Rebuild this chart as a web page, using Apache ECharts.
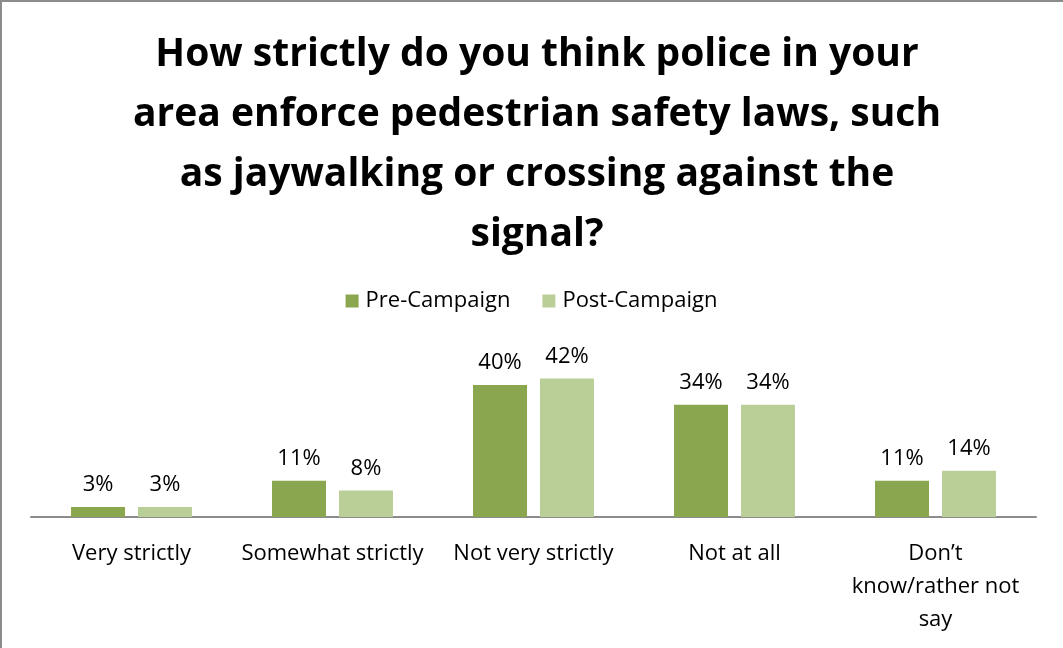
<!DOCTYPE html>
<html>
<head>
<meta charset="utf-8">
<script src="https://cdn.jsdelivr.net/npm/echarts@6/dist/echarts.min.js"></script>
<style>
  html, body { margin: 0; padding: 0; background: #fff; }
  #chart { width: 1063px; height: 648px; }
</style>
</head>
<body>
<div id="chart"></div>
<script>
// Survey responses, percent of respondents
const categories = ['Very strictly', 'Somewhat strictly', 'Not very strictly', 'Not at all', 'Don\u2019t\nknow/rather not\nsay'];
const preCampaign = [3, 11, 40, 34, 11];
const postCampaign = [3, 8, 42, 34, 14];
const seriesNames = ['Pre-Campaign', 'Post-Campaign'];
const titleText = 'How strictly do you think police in your\narea enforce pedestrian safety laws, such\nas jaywalking or crossing against the\nsignal?';

const bodyFont = 'Open Sans';
const chart = echarts.init(document.getElementById('chart'), null, { renderer: 'canvas' });

const labelStyle = {
  show: true,
  position: 'top',
  distance: 11,
  formatter: '{c}%',
  fontFamily: bodyFont,
  fontSize: 22,
  color: '#000'
};

chart.setOption({
  backgroundColor: '#fff',
  animation: false,
  title: {
    text: titleText,
    left: 532,
    top: 20,
    textAlign: 'center',
    textStyle: {
      fontFamily: 'Open Sans',
      fontWeight: 'bold',
      fontSize: 39,
      lineHeight: 60,
      color: '#000'
    }
  },
  legend: {
    data: seriesNames,
    top: 285,
    left: 'center',
    itemWidth: 13,
    itemHeight: 13,
    itemGap: 32,
    icon: 'rect',
    textStyle: { fontFamily: bodyFont, fontSize: 22, color: '#000', padding: [0, 0, 0, 2] }
  },
  grid: { left: 31, right: 27, top: 352, bottom: 131, containLabel: false },
  xAxis: {
    type: 'category',
    data: categories,
    axisTick: { show: false },
    axisLine: { lineStyle: { color: '#8c8c8c', width: 2 } },
    axisLabel: {
      fontFamily: bodyFont,
      fontSize: 22,
      color: '#000',
      margin: 20,
      lineHeight: 33,
      interval: 0
    }
  },
  yAxis: {
    type: 'value',
    min: 0,
    max: 50,
    show: false,
    splitLine: { show: false }
  },
  series: [
    {
      name: seriesNames[0],
      type: 'bar',
      data: preCampaign,
      itemStyle: { color: '#8aa64f' },
      barWidth: 54,
      barGap: '24%',
      label: labelStyle
    },
    {
      name: seriesNames[1],
      type: 'bar',
      data: postCampaign,
      itemStyle: { color: '#bacf98' },
      barWidth: 54,
      label: labelStyle
    }
  ],
  graphic: [
    {
      type: 'rect',
      shape: { x: 1, y: 1, width: 1200, height: 800 },
      style: { fill: 'none', stroke: '#8c8c8c', lineWidth: 2 },
      silent: true,
      z: 100
    }
  ]
});
</script>
</body>
</html>
